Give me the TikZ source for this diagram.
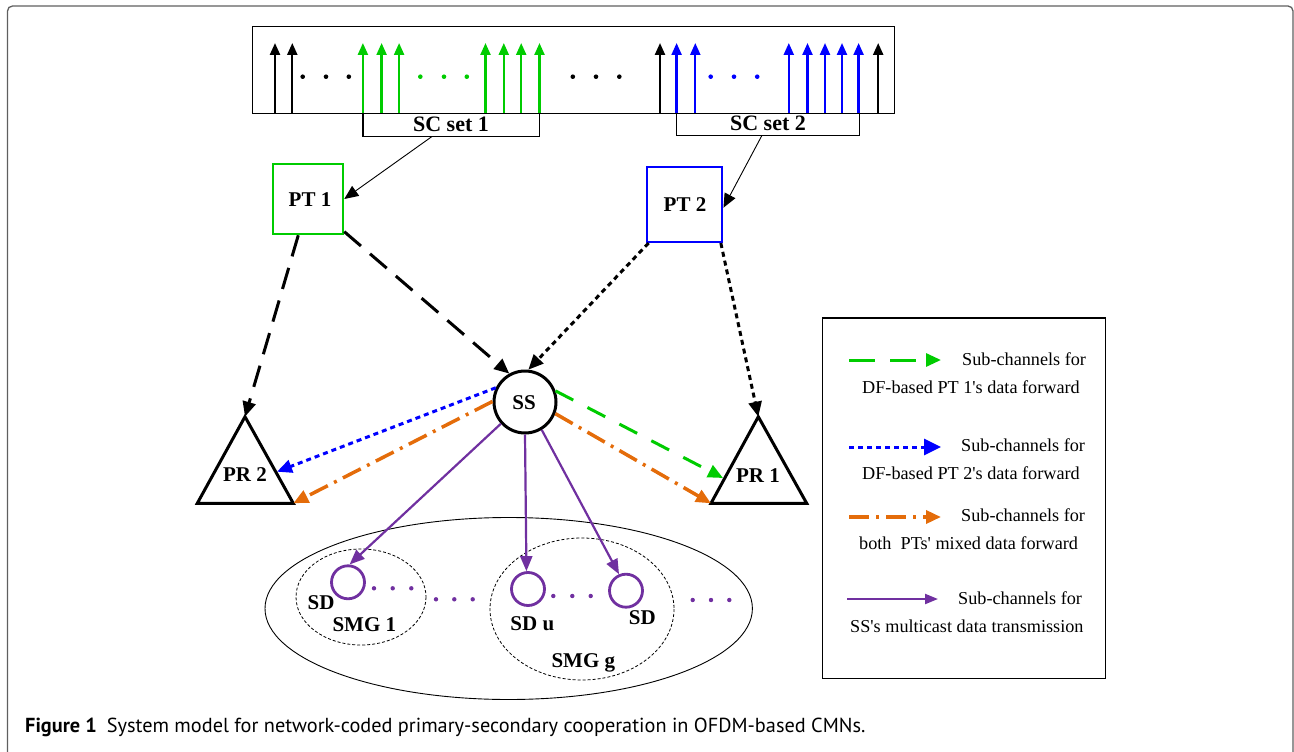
\documentclass[tikz,border=0pt]{standalone}
\usepackage{fontspec}
\setmainfont{Liberation Serif}
\newfontfamily\capfont{PT Sans}
\usetikzlibrary{arrows.meta}

\definecolor{pgreen}{RGB}{0,204,0}
\definecolor{pblue}{RGB}{0,0,255}
\definecolor{porange}{RGB}{228,108,10}
\definecolor{ppurple}{RGB}{112,48,160}
\definecolor{framegray}{RGB}{95,95,95}

\newcommand{\sq}{\textquotesingle}

\begin{document}
\begin{tikzpicture}[x=1pt,y=-1pt,
  lbl/.style={font=\fontsize{21}{24}\selectfont\bfseries, inner sep=0pt, anchor=base},
  legtxt/.style={font=\fontsize{18.2}{21}\selectfont, inner sep=0pt, anchor=base west},
  carrier/.style={line width=2.3pt, -{Triangle[length=12pt,width=10pt]}},
  bracket/.style={line width=1.3pt},
  feed/.style={line width=0.9pt, -{Triangle[length=14pt,width=12pt]}},
  bigtip/.style={-{Triangle[length=15pt,width=13pt]}},
  pdash/.style={bigtip, black, line width=3pt, dash pattern=on 22pt off 12pt},
  pdot/.style={bigtip, black, line width=3pt, dash pattern=on 5pt off 4pt},
  gdash/.style={bigtip, pgreen, line width=3pt, dash pattern=on 20pt off 16pt},
  bdot/.style={bigtip, pblue, line width=3pt, dash pattern=on 5pt off 4pt},
  odashdot/.style={bigtip, porange, line width=3.5pt, dash pattern=on 20pt off 7pt on 3pt off 7pt},
  mcast/.style={ppurple, line width=2.2pt, -{Triangle[length=15pt,width=12pt]}},
  sdnode/.style={circle, draw=ppurple, line width=2.8pt, minimum size=33pt, inner sep=0pt},
  group/.style={draw, line width=0.8pt, dash pattern=on 3pt off 2pt},
  pdots/.style={fill=ppurple}
]
\useasboundingbox (0,0) rectangle (1294,752);

% page frame, open at the bottom
\begin{scope}
  \clip (0,0) rectangle (1294,752);
  \draw[framegray, line width=1.3pt, rounded corners=5pt] (7.5,6) rectangle (1293,760);
\end{scope}

% ---------- sub-carrier band ----------
\node[draw, line width=1.3pt, minimum width=642pt, minimum height=87pt,
      inner sep=0pt, anchor=north west] (band) at (252,26) {};

\foreach \x in {275,292.3,660,878.2}
  \draw[carrier, black] (\x,112.7) -- (\x,43);
\foreach \x in {362.9,381.6,399.1,485.5,503.8,521.2,539.5}
  \draw[carrier, pgreen] (\x,112.7) -- (\x,43);
\foreach \x in {676.6,695.3,788.8,807.5,825,842,858.6}
  \draw[carrier, pblue] (\x,112.7) -- (\x,43);

\foreach \x in {302.7,326,348.8,572.8,596,619.3}
  \fill (\x,76.7) circle (2.3pt);
\foreach \x in {420.3,444,466.8}
  \fill[pgreen] (\x,76.7) circle (2.3pt);
\foreach \x in {710.7,734,757.2}
  \fill[pblue] (\x,76.7) circle (2.3pt);

% sub-carrier sets
\draw[bracket] (362.9,112.7) |- (539.5,136.5) -- (539.5,112.7);
\draw[bracket] (676.6,112.7) |- (859.5,135.7) -- (859.5,112.7);
\node[lbl, font=\fontsize{22}{24}\selectfont\bfseries] (sc1lbl) at (451,131.7) {SC set 1};
\node[lbl, font=\fontsize{22}{24}\selectfont\bfseries] (sc2lbl) at (768,130) {SC set 2};
\coordinate (sc1) at (432,136.5);
\coordinate (sc2) at (761.8,135.7);

% ---------- primary transmitters, secondary source ----------
\node[draw=pgreen, line width=2.5pt, minimum size=70pt, inner sep=0pt] (pt1) at (308,199) {};
\node[lbl] (pt1lbl) at (310,206) {PT 1};
\node[draw=pblue, line width=2.5pt, minimum size=75pt, inner sep=0pt] (pt2) at (684.7,204.3) {};
\node[lbl] (pt2lbl) at (685,211.3) {PT 2};

\node[circle, draw, line width=3pt, minimum size=62pt, inner sep=0pt] (ss) at (525,402) {};
\node[lbl] (sslbl) at (524,409.3) {SS};

% ---------- primary receivers ----------
\coordinate (pr2top) at (245,416.7);
\coordinate (pr2l) at (197.3,503.3);
\coordinate (pr2r) at (293.3,503.3);
\coordinate (pr2side) at (277,471.7);
\draw[line width=3pt, line join=miter] (pr2top) -- (pr2r) -- (pr2l) -- cycle;
\node[lbl] (pr2) at (245,481.7) {PR 2};

\coordinate (pr1top) at (758.3,416.7);
\coordinate (pr1l) at (711,503.3);
\coordinate (pr1r) at (806.7,503.3);
\coordinate (pr1side) at (723,478);
\draw[line width=3pt, line join=miter] (pr1top) -- (pr1r) -- (pr1l) -- cycle;
\node[lbl] (pr1) at (758,482.3) {PR 1};

% ---------- secondary multicast groups ----------
\draw[line width=0.9pt] (508.7,608.5) ellipse [x radius=243.7, y radius=91];
\draw[group] (361,597) ellipse [x radius=65, y radius=48];
\draw[group] (582,609) ellipse [x radius=92, y radius=71];

\node[sdnode] (sd1) at (348,582.3) {};
\node[sdnode] (sdu) at (528,589) {};
\node[sdnode] (sdg) at (626,590.7) {};

\foreach \x in {374,392.7,411.3}
  \fill[pdots] (\x,588.3) circle (2.2pt);
\foreach \x in {436,454.3,472.7}
  \fill[pdots] (\x,599.3) circle (2.2pt);
\foreach \x in {553.3,572.3,590.7}
  \fill[pdots] (\x,596) circle (2.2pt);
\foreach \x in {692.7,711,729.3}
  \fill[pdots] (\x,600) circle (2.2pt);

\node[lbl] (sd1lbl) at (321,609.5) {SD};
\node[lbl] (smg1) at (364.3,631.5) {SMG 1};
\node[lbl] (sdulbl) at (532.3,630.7) {SD u};
\node[lbl] (sdglbl) at (642.3,624) {SD};
\node[lbl] (smgg) at (583.3,667) {SMG g};

% ---------- links ----------
\draw[feed] (sc1) -- (pt1.east);
\draw[feed] (sc2) -- (pt2.-5);

\draw[pdash] (pt1.-105) -- (pr2top);
\draw[pdash] (pt1.-42) -- (ss.119);
\draw[pdot] (pt2.-133) -- (ss.84);
\draw[pdot] (pt2.-47) -- (pr1top);

\draw[bdot] (ss.154) -- (pr2side);
\draw[odashdot] (ss.179) -- (pr2r);
\draw[gdash] (ss.20) -- (pr1side);
\draw[odashdot] (ss.-21) -- (pr1l);

\draw[mcast] (ss.222) -- (sd1.85);
\draw[mcast] (ss.270) -- (sdu.95);
\draw[mcast] (ss.-59) -- (sdg.113);

% ---------- legend ----------
\node[draw, line width=1.2pt, minimum width=283.3pt, minimum height=360.7pt,
      inner sep=0pt, anchor=north west] (legend) at (821.7,317.3) {};

\coordinate (l1a) at (849,360);   \coordinate (l1b) at (941,360);
\coordinate (l2a) at (849,447);   \coordinate (l2b) at (941,447);
\coordinate (l3a) at (849,517);   \coordinate (l3b) at (941,517);
\coordinate (l4a) at (847,599);   \coordinate (l4b) at (938,599);
\draw[gdash, dash pattern=on 26pt off 15pt] (l1a) -- (l1b);
\draw[bdot, -{Triangle[length=17pt,width=16pt]}] (l2a) -- (l2b);
\draw[odashdot] (l3a) -- (l3b);
\draw[mcast, -{Triangle[length=13pt,width=10pt]}] (l4a) -- (l4b);

\node[legtxt] (t1a) at (962,365.5) {Sub-channels for};
\node[legtxt] (t1b) at (862,393.3) {DF-based PT 1\sq s data forward};
\node[legtxt] (t2a) at (961,451.7) {Sub-channels for};
\node[legtxt] (t2b) at (862,479.3) {DF-based PT 2\sq s data forward};
\node[legtxt] (t3a) at (961,521.7) {Sub-channels for};
\node[legtxt] (t3b) at (859,549.3) {both\ \ PTs\sq{} mixed data forward};
\node[legtxt] (t4a) at (958,604) {Sub-channels for};
\node[legtxt] (t4b) at (850,632) {SS\sq s multicast data transmission};

% ---------- caption ----------
\node[anchor=base west, inner sep=0pt, font=\capfont\fontsize{20.3}{23}\selectfont] (caption) at (25,732.3)
  {\textbf{Figure 1}\hspace{10pt}System model for network-coded primary-secondary cooperation in OFDM-based CMNs.};
\end{tikzpicture}
\end{document}
